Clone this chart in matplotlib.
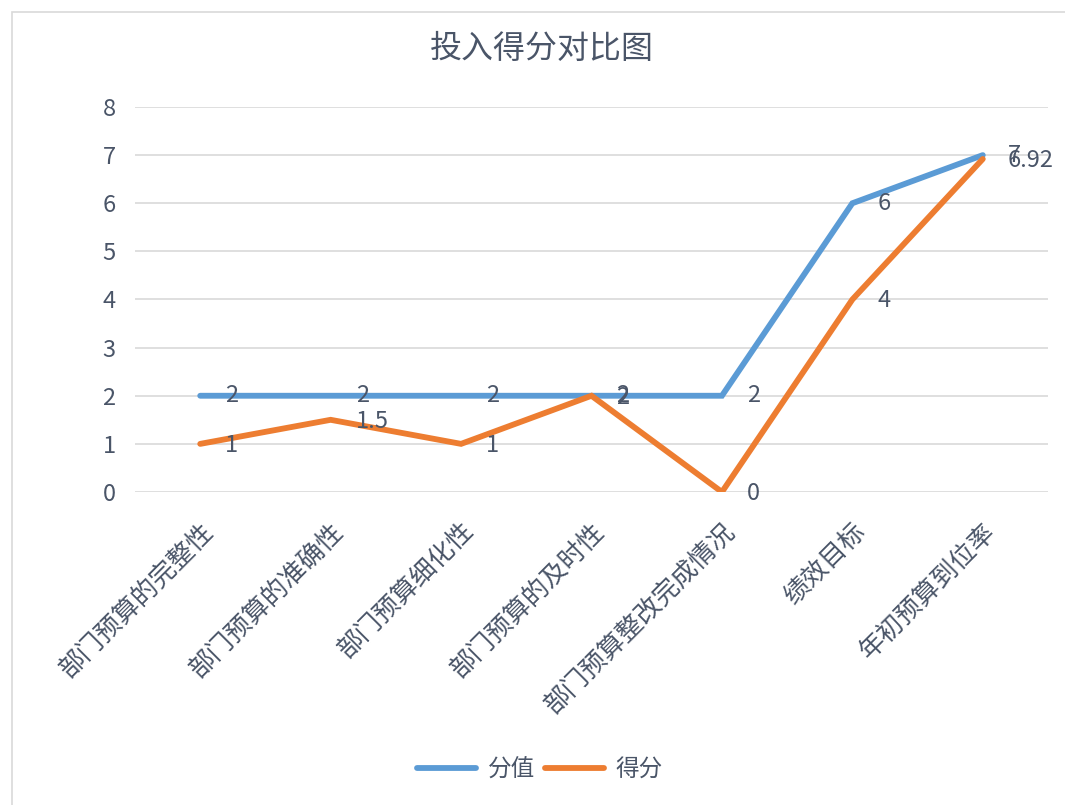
import numpy as np
import matplotlib
matplotlib.use('Agg')
import matplotlib.pyplot as plt
from matplotlib.patches import Rectangle
from matplotlib.transforms import ScaledTranslation

plt.rcParams['font.family'] = ['Noto Sans CJK SC', 'DejaVu Sans']

categories = ['部门预算的完整性', '部门预算的准确性', '部门预算细化性', '部门预算的及时性',
              '部门预算整改完成情况', '绩效目标', '年初预算到位率']
full_score = [2, 2, 2, 2, 2, 6, 7]
got_score = [1, 1.5, 1, 2, 0, 4, 6.92]

BLUE = '#5B9BD5'
ORANGE = '#ED7D31'
TEXT = '#4A5568'
GRID = '#D9D9D9'

fig = plt.figure(figsize=(10.65, 8.05), dpi=100)
fig.patches.append(Rectangle((12 / 1065, -0.01), 1.0, 1 - 12 / 805 + 0.01,
                             transform=fig.transFigure, fill=False,
                             edgecolor='#D9D9D9', lw=1.2))
ax = fig.add_axes([135 / 1065, 1 - 492 / 805, 913 / 1065, 385 / 805])

x = np.arange(len(categories))
ax.plot(x, full_score, color=BLUE, lw=4.2, solid_capstyle='round',
        solid_joinstyle='miter', label='分值', zorder=3)
ax.plot(x, got_score, color=ORANGE, lw=4.2, solid_capstyle='round',
        solid_joinstyle='miter', label='得分', zorder=3)

for xi, v in zip(x, full_score):
    ax.annotate(f'{v:g}', (xi, v), xytext=(18, 0), textcoords='offset points',
                ha='left', va='center', fontsize=17, color=TEXT, zorder=4)
for xi, v in zip(x, got_score):
    ax.annotate(f'{v:g}', (xi, v), xytext=(18, -1), textcoords='offset points',
                ha='left', va='center', fontsize=17, color=TEXT, zorder=4)

ax.set_xlim(-0.5, 6.5)
ax.set_ylim(0, 8)
ax.set_yticks(range(0, 9))
ax.set_xticks(x)
ax.set_xticklabels(categories, rotation=45, ha='right', rotation_mode='anchor',
                   fontsize=18.5, color=TEXT)
shift = ScaledTranslation(28 / 72, 0, fig.dpi_scale_trans)
for lab in ax.get_xticklabels():
    lab.set_transform(lab.get_transform() + shift)
ax.tick_params(axis='y', labelsize=17, labelcolor=TEXT, length=0, pad=14)
ax.tick_params(axis='x', length=0, pad=19)
ax.grid(axis='y', color=GRID, lw=1.2)
ax.set_axisbelow(True)
for s in ax.spines.values():
    s.set_visible(False)

fig.text(0.509, 1 - 49 / 805, '投入得分对比图', ha='center', va='center',
         fontsize=23, color=TEXT)
fig.legend(loc='center', bbox_to_anchor=(0.507, 1 - 770 / 805), ncol=2,
           frameon=False, fontsize=17, labelcolor=TEXT, handlelength=2.5,
           columnspacing=0.4, handletextpad=0.5)

fig.savefig('out.png', dpi=100)
